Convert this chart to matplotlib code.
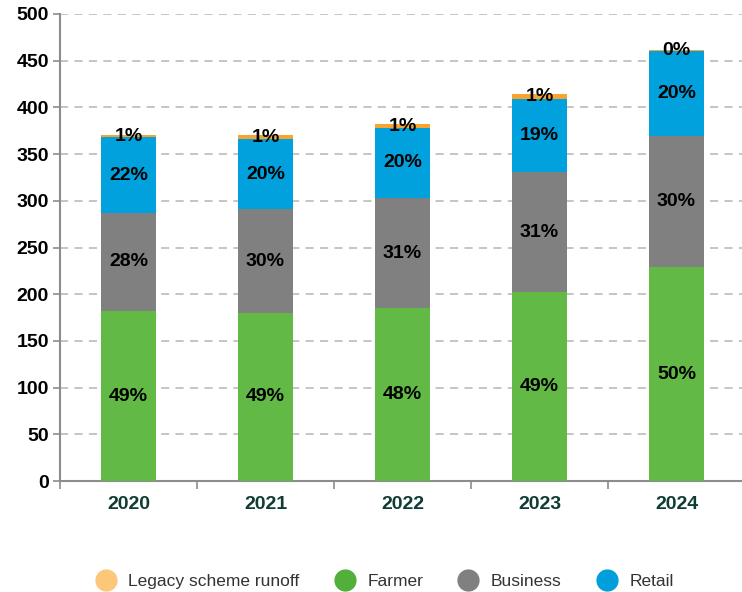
import matplotlib
matplotlib.use('Agg')
import matplotlib.pyplot as plt
from matplotlib.lines import Line2D
import numpy as np

plt.rcParams['font.family'] = ['Liberation Sans', 'DejaVu Sans']

years = ['2020', '2021', '2022', '2023', '2024']
farmer = [182, 180, 185, 202, 229]
business = [105, 111, 118, 129, 140]
retail = [81, 75, 75, 78, 91]
legacy = [2, 4, 4, 5, 1]

farmer_pct = ['49%', '49%', '48%', '49%', '50%']
business_pct = ['28%', '30%', '31%', '31%', '30%']
retail_pct = ['22%', '20%', '20%', '19%', '20%']
legacy_pct = ['1%', '1%', '1%', '1%', '0%']

series = [
    ('Farmer', farmer, farmer_pct, '#62b946'),
    ('Business', business, business_pct, '#808080'),
    ('Retail', retail, retail_pct, '#00a1dd'),
    ('Legacy scheme runoff', legacy, legacy_pct, '#f7a530'),
]
legend_order = [
    ('Legacy scheme runoff', '#fdc77a'),
    ('Farmer', '#52b03a'),
    ('Business', '#808080'),
    ('Retail', '#009fdc'),
]

W, H = 742, 592
fig = plt.figure(figsize=(W / 100, H / 100), dpi=100)
ax = fig.add_axes([60 / W, (H - 481) / H, 685 / W, 467 / H])

x = np.arange(len(years))
bottom = np.zeros(len(years))
for name, vals, labels, color in series:
    vals = np.array(vals, dtype=float)
    ax.bar(x, vals, width=0.4, bottom=bottom, color=color, zorder=3)
    for xi, b, v, lab in zip(x, bottom, vals, labels):
        ax.text(xi, b + v / 2, lab, ha='center', va='center',
                fontsize=14, fontweight='bold', color='black', zorder=4)
    bottom += vals

ax.set_xlim(-0.5, len(years) - 0.5)
ax.set_ylim(0, 500)
ax.set_yticks(np.arange(0, 501, 50))
ax.yaxis.grid(True, color='#c0c0c0', linestyle=(0, (4.5, 3.5)), linewidth=1.3, zorder=0)

for side in ['top', 'right']:
    ax.spines[side].set_visible(False)
for side in ['left', 'bottom']:
    ax.spines[side].set_color('#8c8c8c')
    ax.spines[side].set_linewidth(1.5)

ax.set_xticks(x)
ax.set_xticklabels(years, fontsize=14, fontweight='bold', color='#0f3d33')
ax.set_xticks(np.arange(-0.5, len(years), 1.0), minor=True)
ax.tick_params(axis='x', which='major', length=0, pad=11)
ax.tick_params(axis='x', which='minor', length=6, width=1.2, color='#8c8c8c', direction='out')
ax.tick_params(axis='y', length=5, width=1.2, color='#8c8c8c', pad=3)
for t in ax.get_yticklabels():
    t.set_fontsize(14)
    t.set_fontweight('bold')

handles = [Line2D([], [], marker='o', linestyle='none', markersize=15,
                  markerfacecolor=c, markeredgecolor=c, label=n)
           for n, c in legend_order]
fig.legend(handles=handles, loc='center', bbox_to_anchor=(0.5 + 10 / W, (H - 581) / H),
           ncol=4, frameon=False, fontsize=12.5, handletextpad=0.3,
           columnspacing=1.6, labelcolor='#333333')

fig.savefig('out.png', dpi=100)
